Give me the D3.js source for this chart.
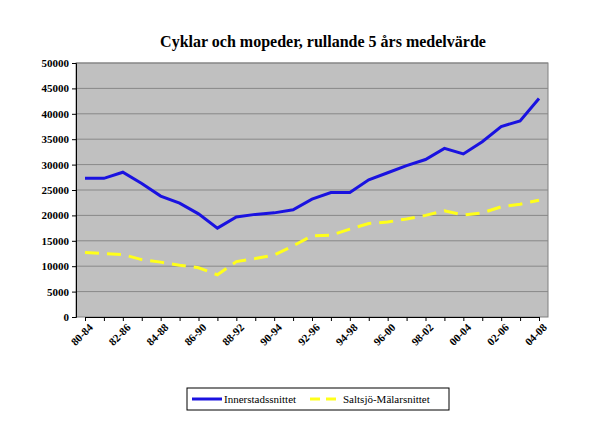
<!DOCTYPE html>
<html><head><meta charset="utf-8">
<script src="https://cdn.jsdelivr.net/npm/d3@7"></script>
<style>body{margin:0;background:#fff}text{font-family:"Liberation Serif","Times New Roman",serif}</style>
</head><body>
<svg width="598" height="433"></svg>
<script>
const periods = d3.range(80, 105).map(y => String(y % 100).padStart(2, "0") + "-" + String((y + 4) % 100).padStart(2, "0"));
const innerstad = [27300, 27300, 28500, 26300, 23800, 22400, 20300, 17500, 19700, 20200, 20500, 21100, 23200, 24500, 24500, 27000, 28400, 29800, 31000, 33200, 32100, 34500, 37500, 38600, 43000];
const saltsjo = [12700, 12500, 12300, 11300, 10800, 10200, 9700, 8300, 10900, 11500, 12200, 14000, 16000, 16100, 17300, 18400, 18700, 19300, 20000, 20900, 20100, 20500, 21700, 22200, 23000];
const yTicks = d3.range(0, 50001, 5000);

const svg = d3.select("svg");
const pL = 76, pR = 548, pT = 63, pB = 317;

svg.append("text").attr("x", 323).attr("y", 47).attr("text-anchor", "middle")
  .attr("font-size", 16).attr("font-weight", "bold")
  .text("Cyklar och mopeder, rullande 5 års medelvärde");

const x = d3.scalePoint().domain(periods).range([pL + 9, pR - 9]);
const y = d3.scaleLinear().domain([0, 50000]).range([pB, pT]);

svg.append("rect").attr("x", pL).attr("y", pT).attr("width", pR - pL).attr("height", pB - pT)
  .attr("fill", "#c0c0c0").attr("stroke", "#808080");

svg.append("g").selectAll("line").data(yTicks.slice(1)).join("line")
  .attr("x1", pL).attr("x2", pR).attr("y1", d => y(d)).attr("y2", d => y(d))
  .attr("stroke", "#888").attr("stroke-width", 1);

const ya = svg.append("g").attr("transform", `translate(${pL},0)`)
  .call(d3.axisLeft(y).tickValues(yTicks).tickSize(4).tickFormat(d => d));
ya.selectAll("text").attr("font-size", 11).attr("font-weight", "bold").attr("font-family", "Liberation Serif");
ya.select(".domain").attr("stroke", "#000");

const xa = svg.append("g").attr("transform", `translate(0,${pB})`)
  .call(d3.axisBottom(x).tickSize(4).tickFormat((d, i) => i % 2 === 0 ? d : ""));
xa.select(".domain").attr("stroke", "#000");
xa.selectAll("text").attr("font-size", 11).attr("font-weight", "bold").attr("font-family", "Liberation Serif")
  .attr("text-anchor", "end").attr("dx", "-0.2em").attr("dy", "0.6em")
  .attr("transform", "rotate(-45)");

const line = d3.line().x((d, i) => x(periods[i])).y(d => y(d));
svg.append("path").datum(innerstad).attr("d", line).attr("fill", "none")
  .attr("stroke", "#1a12e0").attr("stroke-width", 3);
svg.append("path").datum(saltsjo).attr("d", line).attr("fill", "none")
  .attr("stroke", "#ffff1a").attr("stroke-width", 3).attr("stroke-dasharray", "14,8");

const lg = svg.append("g");
lg.append("rect").attr("x", 187).attr("y", 388).attr("width", 262).attr("height", 22)
  .attr("fill", "#fff").attr("stroke", "#000");
lg.append("line").attr("x1", 192).attr("x2", 222).attr("y1", 399).attr("y2", 399)
  .attr("stroke", "#1a12e0").attr("stroke-width", 3);
lg.append("text").attr("x", 224).attr("y", 403).attr("font-size", 11).text("Innerstadssnittet");
lg.append("line").attr("x1", 310).attr("x2", 340).attr("y1", 399).attr("y2", 399)
  .attr("stroke", "#ffff1a").attr("stroke-width", 3).attr("stroke-dasharray", "10,6");
lg.append("text").attr("x", 343).attr("y", 403).attr("font-size", 11).text("Saltsjö-Mälarsnittet");
</script>
</body></html>
